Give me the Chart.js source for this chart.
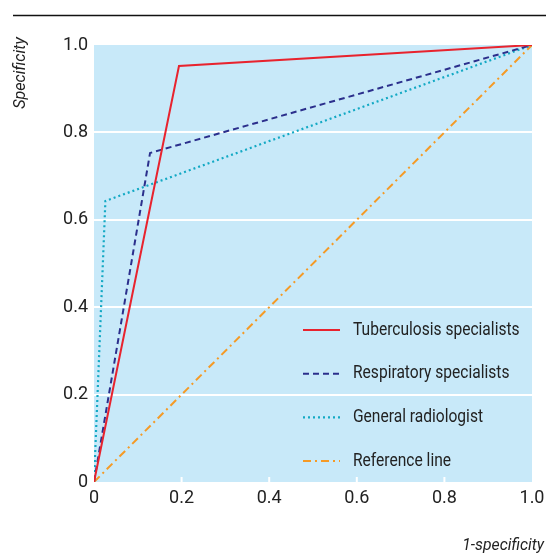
<!DOCTYPE html>
<html>
<head>
<meta charset="utf-8">
<script src="https://cdn.jsdelivr.net/npm/chart.js@4/dist/chart.umd.min.js"></script>
<style>
body{ margin:0; background:#fff; }
#wrap{ width:546px; height:554px; }
</style>
</head>
<body>
<div id="wrap"><canvas id="roc"></canvas></div>
<script>

/* DATA */

const seriesNames = [
"Tuberculosis specialists",
"Respiratory specialists",
"General radiologist",
"Reference line"
];

const tbX = [0, 0.194, 1];
const tbY = [0, 0.952, 1];

const respX = [0, 0.128, 1];
const respY = [0, 0.753, 1];

const radX = [0, 0.026, 1];
const radY = [0, 0.643, 1];

const refX = [0, 1];
const refY = [0, 1];

const tickValues = [0, 0.2, 0.4, 0.6, 0.8, 1.0];

/* STYLE */

const FONT = "Roboto, 'Liberation Sans', sans-serif";

function toPoints(xs, ys){
    return xs.map((x, i) => ({ x: x, y: ys[i] }));
}

function tickLabel(v){
    if(v === 0) return "0";
    return v.toFixed(1);
}

/* narrow text: the original uses a condensed face */
function narrowText(ctx, text, x, y, squeeze){
    ctx.save();
    ctx.translate(x, y);
    ctx.scale(squeeze, 1);
    ctx.fillText(text, 0, 0);
    ctx.restore();
}

/* PLOT BACKGROUND + FRAME TEXT */

const framePlugin = {
    id: "frame",
    beforeDraw(chart){
        const ctx = chart.ctx;
        const a = chart.chartArea;

        ctx.save();
        ctx.fillStyle = "#c8e9f9";
        ctx.fillRect(a.left, a.top, a.right - a.left, a.bottom - a.top);

        /* small white ticks on the bottom edge */
        const xs = chart.scales.x;
        ctx.strokeStyle = "#ffffff";
        ctx.lineWidth = 2;
        tickValues.slice(1, -1).forEach(v => {
            const px = xs.getPixelForValue(v);
            ctx.beginPath();
            ctx.moveTo(px, a.bottom);
            ctx.lineTo(px, a.bottom - 5);
            ctx.stroke();
        });

        /* top rule */
        ctx.strokeStyle = "#111";
        ctx.lineWidth = 1.5;
        ctx.beginPath();
        ctx.moveTo(13, 15.5);
        ctx.lineTo(546, 15.5);
        ctx.stroke();

        /* axis titles */
        ctx.fillStyle = "#222";
        ctx.font = "italic 17px " + FONT;
        ctx.textAlign = "right";
        ctx.textBaseline = "middle";
        narrowText(ctx, "1-specificity", 544, 546, 0.93);

        ctx.translate(21, 73);
        ctx.rotate(-Math.PI / 2);
        ctx.textAlign = "center";
        narrowText(ctx, "Specificity", 0, 0, 0.95);
        ctx.restore();
    },
    afterDatasetsDraw(chart){
        const ctx = chart.ctx;
        const a = chart.chartArea;

        ctx.save();
        chart.data.datasets.forEach((ds, i) => {
            const y = a.bottom - 152 + i * 43.7;
            const x0 = a.right - 229;

            ctx.strokeStyle = ds.borderColor;
            ctx.lineWidth = ds.borderWidth;
            ctx.setLineDash(ds.borderDash || []);
            ctx.beginPath();
            ctx.moveTo(x0, y);
            ctx.lineTo(x0 + 37, y);
            ctx.stroke();

            ctx.setLineDash([]);
            ctx.fillStyle = "#222";
            ctx.font = "18px " + FONT;
            ctx.textAlign = "left";
            ctx.textBaseline = "middle";
            narrowText(ctx, ds.label, x0 + 50, y, 0.865);
        });
        ctx.restore();
    }
};

/* CHART */

new Chart(document.getElementById("roc"), {
    type: "line",
    data: {
        datasets: [
            {
                label: seriesNames[0],
                data: toPoints(tbX, tbY),
                borderColor: "#e8232e",
                borderWidth: 2
            },
            {
                label: seriesNames[1],
                data: toPoints(respX, respY),
                borderColor: "#2b2f8c",
                borderWidth: 2,
                borderDash: [6, 4]
            },
            {
                label: seriesNames[2],
                data: toPoints(radX, radY),
                borderColor: "#13a9c4",
                borderWidth: 2.2,
                borderDash: [2, 3]
            },
            {
                label: seriesNames[3],
                data: toPoints(refX, refY),
                borderColor: "#f59a25",
                borderWidth: 2,
                borderDash: [8, 4, 2, 4]
            }
        ]
    },
    options: {
        responsive: true,
        maintainAspectRatio: false,
        animation: false,
        layout: {
            padding: { left: 0, right: 14, top: 45, bottom: 0 }
        },
        elements: {
            point: { radius: 0 },
            line: { tension: 0, fill: false }
        },
        plugins: {
            legend: { display: false },
            tooltip: { enabled: false }
        },
        scales: {
            x: {
                type: "linear",
                min: 0,
                max: 1,
                afterBuildTicks(scale){
                    scale.ticks = tickValues.map(v => ({ value: v }));
                },
                afterFit(scale){
                    scale.height = 72;
                    scale.paddingLeft = 0;
                    scale.paddingRight = 0;
                },
                grid: { display: false, drawTicks: false },
                border: { display: false },
                ticks: {
                    padding: 6,
                    color: "#222",
                    font: { family: FONT, size: 18 },
                    maxRotation: 0,
                    callback: v => tickLabel(v)
                }
            },
            y: {
                type: "linear",
                min: 0,
                max: 1,
                afterBuildTicks(scale){
                    scale.ticks = tickValues.map(v => ({ value: v }));
                },
                afterFit(scale){
                    scale.width = 94;
                    scale.paddingTop = 0;
                    scale.paddingBottom = 0;
                },
                grid: {
                    drawTicks: false,
                    lineWidth: 2,
                    color: ctx => (ctx.tick && ctx.tick.value > 0 && ctx.tick.value < 1)
                        ? "#ffffff" : "rgba(0,0,0,0)"
                },
                border: { display: false },
                ticks: {
                    padding: 6,
                    color: "#222",
                    font: { family: FONT, size: 18 },
                    callback: v => tickLabel(v)
                }
            }
        }
    },
    plugins: [framePlugin]
});

</script>
</body>
</html>
